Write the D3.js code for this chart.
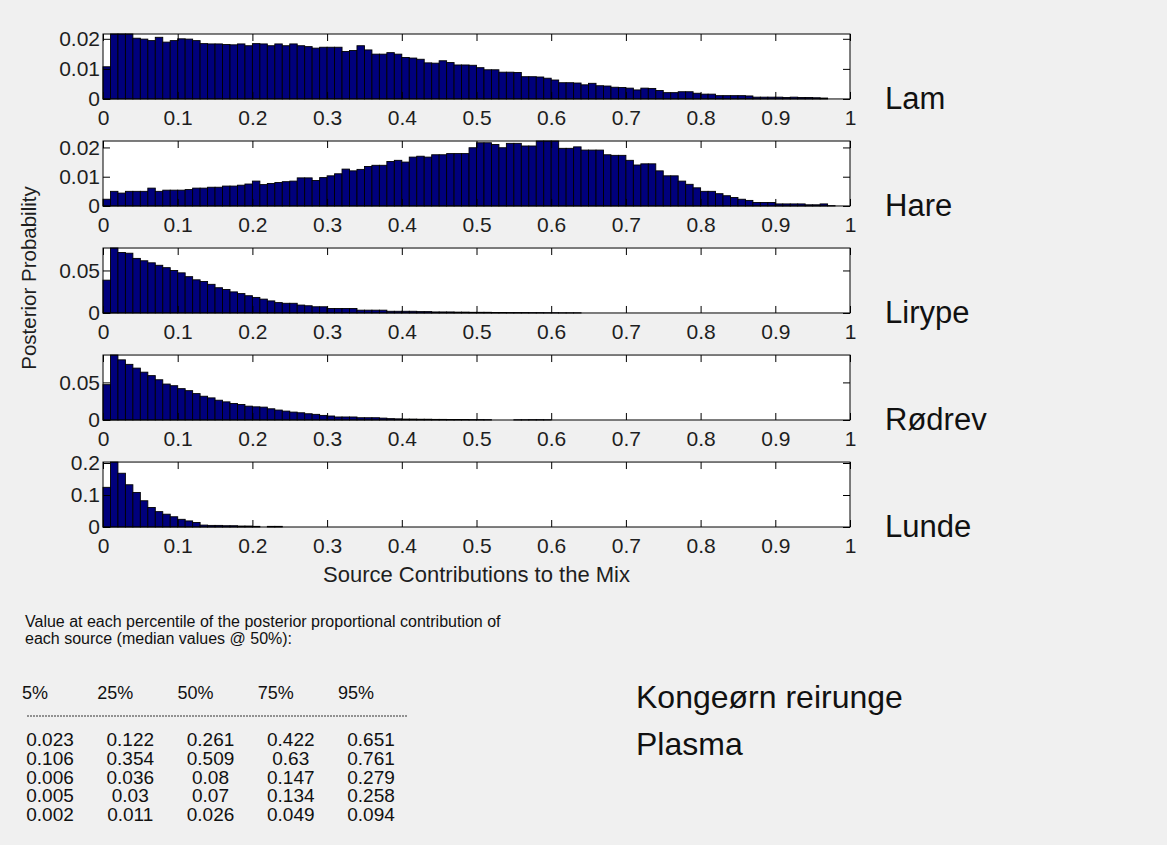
<!DOCTYPE html>
<html>
<head>
<meta charset="utf-8">
<script src="https://cdn.jsdelivr.net/npm/d3@7"></script>
<style>
body { margin: 0; background: #f0f0f0; }
svg { display: block; font-family: "Liberation Sans", Arial, sans-serif; }
</style>
</head>
<body>
<svg width="1167" height="845"></svg>
<script>
// sources (one histogram panel each)
var sources = ["Lam", "Hare", "Lirype", "Rødrev", "Lunde"];
var binWidth = 0.01;

// posterior probability per bin of 0.01
var lam = [
  0.0107, 0.0216, 0.0216, 0.0216, 0.0202, 0.0199, 0.0194, 0.0205, 0.0189, 0.0194,
  0.0200, 0.0199, 0.0194, 0.0184, 0.0183, 0.0183, 0.0181, 0.0180, 0.0183, 0.0177,
  0.0184, 0.0183, 0.0177, 0.0183, 0.0177, 0.0183, 0.0177, 0.0174, 0.0169, 0.0172,
  0.0172, 0.0172, 0.0158, 0.0161, 0.0177, 0.0163, 0.0149, 0.0149, 0.0154, 0.0149,
  0.0138, 0.0136, 0.0132, 0.0120, 0.0119, 0.0127, 0.0121, 0.0113, 0.0113, 0.0112,
  0.0104, 0.0097, 0.0097, 0.0089, 0.0089, 0.0088, 0.0074, 0.0074, 0.0073, 0.0069,
  0.0063, 0.0054, 0.0054, 0.0053, 0.0047, 0.0052, 0.0044, 0.0043, 0.0039, 0.0038,
  0.0036, 0.0030, 0.0036, 0.0035, 0.0028, 0.0021, 0.0021, 0.0024, 0.0024, 0.0019,
  0.0016, 0.0016, 0.0011, 0.0011, 0.0011, 0.0011, 0.0010, 0.0006, 0.0006, 0.0006,
  0.0006, 0.0005, 0.0006, 0.0005, 0.0005, 0.0004, 0.0003, 0, 0, 0
];
var hare = [
  0.0023, 0.0050, 0.0044, 0.0050, 0.0050, 0.0050, 0.0061, 0.0050, 0.0054, 0.0054,
  0.0054, 0.0056, 0.0061, 0.0061, 0.0064, 0.0064, 0.0068, 0.0068, 0.0071, 0.0075,
  0.0085, 0.0073, 0.0077, 0.0080, 0.0083, 0.0085, 0.0096, 0.0096, 0.0087, 0.0097,
  0.0103, 0.0110, 0.0126, 0.0120, 0.0125, 0.0135, 0.0139, 0.0139, 0.0152, 0.0156,
  0.0150, 0.0167, 0.0170, 0.0167, 0.0175, 0.0175, 0.0179, 0.0179, 0.0179, 0.0199,
  0.0216, 0.0216, 0.0210, 0.0199, 0.0214, 0.0214, 0.0205, 0.0205, 0.0222, 0.0222,
  0.0222, 0.0197, 0.0197, 0.0202, 0.0191, 0.0191, 0.0191, 0.0175, 0.0173, 0.0173,
  0.0156, 0.0140, 0.0144, 0.0144, 0.0120, 0.0103, 0.0103, 0.0085, 0.0074, 0.0062,
  0.0050, 0.0050, 0.0042, 0.0035, 0.0029, 0.0023, 0.0019, 0.0012, 0.0012, 0.0012,
  0.0007, 0.0007, 0.0007, 0.0007, 0.0004, 0.0004, 0.0007, 0.0001, 0, 0
];
var lirype = [
  0.0386, 0.0764, 0.0711, 0.0703, 0.0642, 0.0614, 0.0590, 0.0561, 0.0533, 0.0500,
  0.0472, 0.0427, 0.0390, 0.0370, 0.0337, 0.0297, 0.0276, 0.0248, 0.0228, 0.0203,
  0.0183, 0.0163, 0.0142, 0.0122, 0.0114, 0.0114, 0.0093, 0.0085, 0.0073, 0.0073,
  0.0053, 0.0053, 0.0053, 0.0053, 0.0033, 0.0033, 0.0033, 0.0033, 0.0020, 0.0020,
  0.0020, 0.0020, 0.0016, 0.0016, 0.0012, 0.0012, 0.0012, 0.0010, 0.0010, 0.0008,
  0.0008, 0.0008, 0.0006, 0.0006, 0.0005, 0.0005, 0.0005, 0.0004, 0.0004, 0.0003,
  0.0003, 0.0002, 0.0002, 0.0002, 0, 0, 0, 0, 0, 0,
  0, 0, 0, 0, 0, 0, 0, 0, 0, 0,
  0, 0, 0, 0, 0, 0, 0, 0, 0, 0,
  0, 0, 0, 0, 0, 0, 0, 0, 0, 0
];
var rodrev = [
  0.0470, 0.0864, 0.0800, 0.0740, 0.0690, 0.0636, 0.0590, 0.0535, 0.0478, 0.0456,
  0.0417, 0.0390, 0.0351, 0.0316, 0.0294, 0.0263, 0.0241, 0.0219, 0.0206, 0.0184,
  0.0175, 0.0171, 0.0149, 0.0132, 0.0118, 0.0105, 0.0096, 0.0083, 0.0075, 0.0061,
  0.0053, 0.0040, 0.0040, 0.0040, 0.0030, 0.0030, 0.0030, 0.0025, 0.0018, 0.0015,
  0.0012, 0.0012, 0.0010, 0.0010, 0.0008, 0.0008, 0.0007, 0.0006, 0.0006, 0.0005,
  0.0005, 0.0004, 0, 0, 0, 0.0003, 0.0003, 0.0004, 0.0004, 0.0003,
  0, 0, 0, 0, 0, 0, 0, 0, 0, 0,
  0, 0, 0, 0, 0, 0, 0, 0, 0, 0,
  0, 0, 0, 0, 0, 0, 0, 0, 0, 0,
  0, 0, 0, 0, 0, 0, 0, 0, 0, 0
];
var lunde = [
  0.124, 0.203, 0.168, 0.132, 0.108, 0.082, 0.061, 0.048, 0.040, 0.032,
  0.024, 0.019, 0.014, 0.006, 0.005, 0.005, 0.004, 0.004, 0.003, 0.003,
  0.002, 0, 0.002, 0.002, 0, 0, 0, 0, 0, 0,
  0, 0, 0, 0, 0, 0, 0, 0, 0, 0,
  0, 0, 0, 0, 0, 0, 0, 0, 0, 0,
  0, 0, 0, 0, 0, 0, 0, 0, 0, 0,
  0, 0, 0, 0, 0, 0, 0, 0, 0, 0,
  0, 0, 0, 0, 0, 0, 0, 0, 0, 0,
  0, 0, 0, 0, 0, 0, 0, 0, 0, 0,
  0, 0, 0, 0, 0, 0, 0, 0, 0, 0
];
var series = [lam, hare, lirype, rodrev, lunde];

// tick values
var xTicks = [0, 0.1, 0.2, 0.3, 0.4, 0.5, 0.6, 0.7, 0.8, 0.9, 1];
var yTicks = [[0, 0.01, 0.02], [0, 0.01, 0.02], [0, 0.05], [0, 0.05], [0, 0.1, 0.2]];

// percentile table
var percentiles = ["5%", "25%", "50%", "75%", "95%"];
var lamRow = [0.023, 0.122, 0.261, 0.422, 0.651];
var hareRow = [0.106, 0.354, 0.509, 0.63, 0.761];
var liryRow = [0.006, 0.036, 0.08, 0.147, 0.279];
var rodrevRow = [0.005, 0.03, 0.07, 0.134, 0.258];
var lundeRow = [0.002, 0.011, 0.026, 0.049, 0.094];
var tableRows = [lamRow, hareRow, liryRow, rodrevRow, lundeRow];

var svg = d3.select("svg");
var textColor = "#1e1e1e";

var x = d3.scaleLinear().domain([0, 1]).range([103, 850]);
var band = d3.scaleBand().domain(sources).range([34, 527]).paddingInner(0.393);

sources.forEach(function (name, i) {
    var values = series[i];
    var top = band(name), h = band.bandwidth();
    var y = d3.scaleLinear().domain([0, d3.max(values)]).range([top + h, top]);

    var g = svg.append("g");

    // white plot area
    g.append("rect")
        .attr("x", x(0)).attr("y", top)
        .attr("width", x(1) - x(0)).attr("height", h)
        .attr("fill", "white");

    // bars
    g.selectAll("rect.bar")
        .data(values.map(function (v, j) { return { bin: j, value: v }; })
            .filter(function (d) { return d.value > 0; }))
        .enter().append("rect")
        .attr("class", "bar")
        .attr("x", function (d) { return x(d.bin * binWidth); })
        .attr("y", function (d) { return y(d.value); })
        .attr("width", x(binWidth) - x(0))
        .attr("height", function (d) { return y(0) - y(d.value); })
        .attr("fill", "#00007c")
        .attr("stroke", "#000")
        .attr("stroke-width", 0.9);

    // axes, ticks inside like matlab
    var bottom = g.append("g")
        .attr("transform", "translate(0," + (top + h) + ")")
        .call(d3.axisBottom(x).tickValues(xTicks).tickSizeInner(-7).tickSizeOuter(0)
            .tickPadding(11).tickFormat(d3.format("~g")));
    var topAx = g.append("g")
        .attr("transform", "translate(0," + top + ")")
        .call(d3.axisTop(x).tickValues(xTicks).tickSizeInner(-7).tickSizeOuter(0).tickFormat(""));
    var left = g.append("g")
        .attr("transform", "translate(" + x(0) + ",0)")
        .call(d3.axisLeft(y).tickValues(yTicks[i]).tickSizeInner(-7).tickSizeOuter(0)
            .tickPadding(3).tickFormat(d3.format("~g")));
    var right = g.append("g")
        .attr("transform", "translate(" + x(1) + ",0)")
        .call(d3.axisRight(y).tickValues(yTicks[i]).tickSizeInner(-7).tickSizeOuter(0).tickFormat(""));

    [bottom, topAx, left, right].forEach(function (ax) {
        ax.select(".domain").remove();
        ax.selectAll("line").attr("stroke", "#000");
        ax.selectAll("text")
            .attr("font-family", "Liberation Sans, Arial, sans-serif")
            .attr("font-size", 21)
            .attr("fill", textColor);
    });

    // box
    g.append("rect")
        .attr("x", x(0)).attr("y", top)
        .attr("width", x(1) - x(0)).attr("height", h)
        .attr("fill", "none")
        .attr("stroke", "#000")
        .attr("stroke-width", 1);

    // source name
    svg.append("text")
        .attr("x", 885)
        .attr("y", top + h + 10)
        .attr("font-size", 31)
        .attr("fill", "#111")
        .text(name);
});

// axis titles
svg.append("text")
    .attr("x", (x(0) + x(1)) / 2)
    .attr("y", 582)
    .attr("text-anchor", "middle")
    .attr("font-size", 22)
    .attr("fill", textColor)
    .text("Source Contributions to the Mix");

svg.append("text")
    .attr("transform", "translate(36,278) rotate(-90)")
    .attr("text-anchor", "middle")
    .attr("font-size", 20.5)
    .attr("fill", textColor)
    .text("Posterior Probability");

// percentile table
svg.append("text")
    .attr("x", 25).attr("y", 627)
    .attr("font-size", 16)
    .attr("fill", "#111")
    .text("Value at each percentile of the posterior proportional contribution of");
svg.append("text")
    .attr("x", 25).attr("y", 644)
    .attr("font-size", 16)
    .attr("fill", "#111")
    .text("each source (median values @ 50%):");

var col = d3.scalePoint().domain(percentiles).range([50, 371]);

svg.selectAll("text.head")
    .data(percentiles)
    .enter().append("text")
    .attr("class", "head")
    .attr("x", function (d) { return col(d) - 15; })
    .attr("y", 699)
    .attr("text-anchor", "middle")
    .attr("font-size", 18)
    .attr("fill", "#111")
    .text(function (d) { return d; });

svg.append("line")
    .attr("x1", 27).attr("x2", 408)
    .attr("y1", 716).attr("y2", 716)
    .attr("stroke", "#333")
    .attr("stroke-width", 1)
    .attr("stroke-dasharray", "2,1");

var rowY = d3.scaleLinear().domain([0, tableRows.length - 1]).range([746, 821]);
tableRows.forEach(function (row, r) {
    svg.selectAll("text.row" + r)
        .data(row)
        .enter().append("text")
        .attr("class", "row" + r)
        .attr("x", function (d, c) { return col(percentiles[c]); })
        .attr("y", rowY(r))
        .attr("text-anchor", "middle")
        .attr("font-size", 19)
        .attr("fill", "#111")
        .text(function (d) { return String(d); });
});

// sample name
svg.append("text")
    .attr("x", 636).attr("y", 708)
    .attr("font-size", 32)
    .attr("fill", "#111")
    .text("Kongeørn reirunge");
svg.append("text")
    .attr("x", 636).attr("y", 755)
    .attr("font-size", 32)
    .attr("fill", "#111")
    .text("Plasma");
</script>
</body>
</html>
